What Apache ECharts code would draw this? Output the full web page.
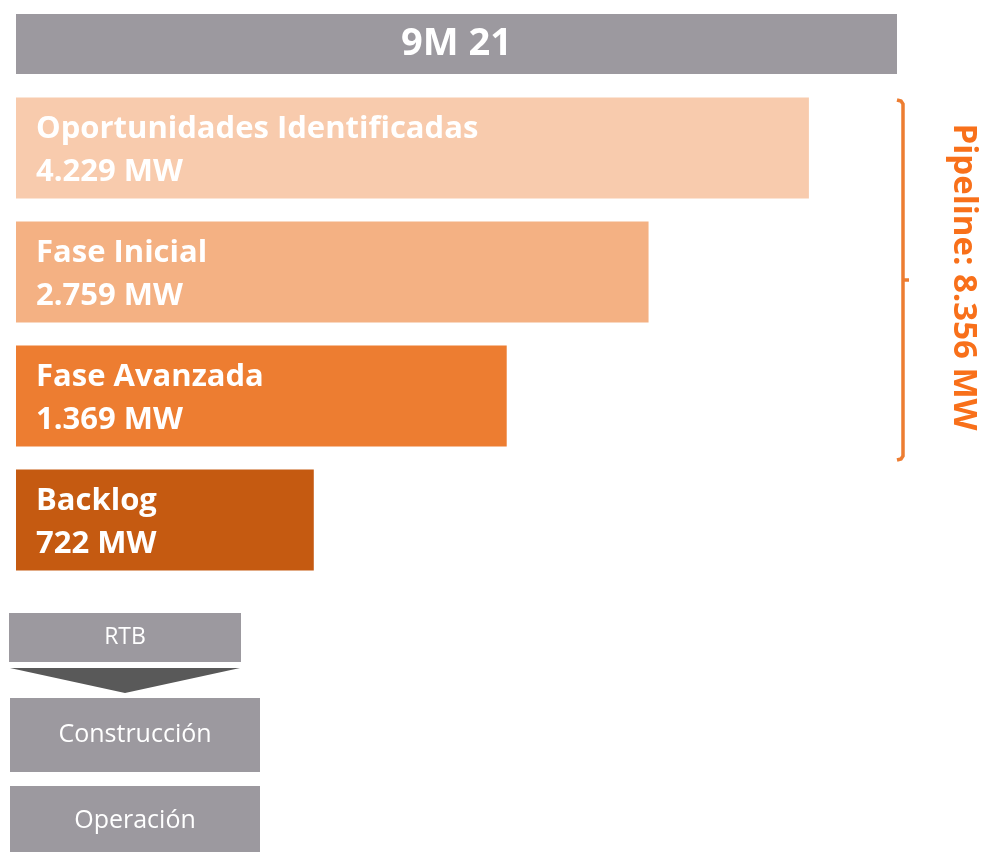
<!DOCTYPE html>
<html lang="es">
<head>
    <meta charset="UTF-8">
    <title>Pipeline 9M 21</title>
    <script src="https://cdn.jsdelivr.net/npm/echarts@6/dist/echarts.min.js"></script>
    <style>
        html, body { margin: 0; padding: 0; background: #fff; }
    </style>
</head>
<body>
<div id="box" style="width: 982px;height: 852px;"></div>
<script>
    // datos
    var periodo = '9M 21';
    var fases = ['Oportunidades Identificadas', 'Fase Inicial', 'Fase Avanzada', 'Backlog'];
    var mw = [4229, 2759, 1369, 722];
    // largo visual de cada barra, en % del ancho de la barra de cabecera
    var largoBarra = [90, 71.8, 55.7, 33.8];
    var colores = ['#F8CBAD', '#F4B183', '#ED7D31', '#C55A11'];
    var pipelineTotal = 8356;
    var etapas = ['RTB', 'Construcción', 'Operación'];

    function fmt(n) {
        return String(n).replace(/\B(?=(\d{3})+(?!\d))/g, '.');
    }

    var fuente = '"Open Sans", Lato, sans-serif';
    var gris = '#9C999F';
    var naranja = '#ED7D31';

    var myChart = echarts.init(document.getElementById('box'));

    // cajas de abajo
    var cajas = [
        {x: 9, y: 613, w: 232, h: 49, size: 23},
        {x: 10, y: 698, w: 250, h: 74, size: 25},
        {x: 10, y: 786, w: 250, h: 70, size: 25}
    ];
    var graficos = [];
    etapas.forEach(function (t, i) {
        var c = cajas[i];
        graficos.push({
            type: 'rect',
            shape: {x: c.x, y: c.y, width: c.w, height: c.h},
            style: {fill: gris}
        });
        graficos.push({
            type: 'text',
            x: c.x + c.w / 2,
            y: c.y + c.h / 2,
            style: {
                text: t, fill: '#fff', font: c.size + 'px ' + fuente,
                align: 'center', verticalAlign: 'middle'
            }
        });
    });
    // flecha
    graficos.push({
        type: 'polygon',
        shape: {points: [[10, 668], [240, 668], [125, 693]]},
        style: {fill: '#595959'}
    });
    // llave del pipeline
    graficos.push({
        type: 'polyline',
        shape: {points: [[897, 100], [901, 101], [903, 104], [903, 456], [901, 459], [897, 460]]},
        style: {stroke: naranja, lineWidth: 3.5, fill: null}
    });
    graficos.push({
        type: 'line',
        shape: {x1: 903, y1: 280, x2: 909, y2: 280},
        style: {stroke: naranja, lineWidth: 3.5}
    });
    graficos.push({
        type: 'text',
        x: 963,
        y: 277,
        rotation: -Math.PI / 2,
        style: {
            text: 'Pipeline: ' + fmt(pipelineTotal) + ' MW',
            fill: '#F8701A',
            font: 'bold 33px ' + fuente,
            align: 'center', verticalAlign: 'middle'
        }
    });

    var option = {
        animation: false,
        grid: [
            {left: 16, top: 14, width: 881, height: 60},
            {left: 16, top: 86, width: 881, height: 496}
        ],
        xAxis: [
            {gridIndex: 0, type: 'value', min: 0, max: 100, show: false},
            {gridIndex: 1, type: 'value', min: 0, max: 100, show: false}
        ],
        yAxis: [
            {gridIndex: 0, type: 'category', data: [periodo], show: false},
            {gridIndex: 1, type: 'category', data: fases, inverse: true, show: false}
        ],
        series: [
            {
                type: 'bar',
                xAxisIndex: 0,
                yAxisIndex: 0,
                barWidth: '100%',
                data: [100],
                itemStyle: {color: gris},
                label: {
                    show: true,
                    position: 'inside',
                    formatter: periodo,
                    color: '#fff',
                    fontFamily: fuente,
                    fontWeight: 'bold',
                    fontSize: 38
                }
            },
            {
                type: 'bar',
                xAxisIndex: 1,
                yAxisIndex: 1,
                barCategoryGap: '18.5%',
                data: largoBarra.map(function (v, i) {
                    return {value: v, itemStyle: {color: colores[i]}};
                }),
                label: {
                    show: true,
                    position: 'insideLeft',
                    distance: 20,
                    offset: [0, 3],
                    color: '#fff',
                    fontFamily: fuente,
                    fontWeight: 'bold',
                    fontSize: 31,
                    lineHeight: 43,
                    formatter: function (p) {
                        return fases[p.dataIndex] + '\n' + fmt(mw[p.dataIndex]) + ' MW';
                    }
                }
            }
        ],
        graphic: graficos
    };
    myChart.setOption(option);
</script>
</body>
</html>
